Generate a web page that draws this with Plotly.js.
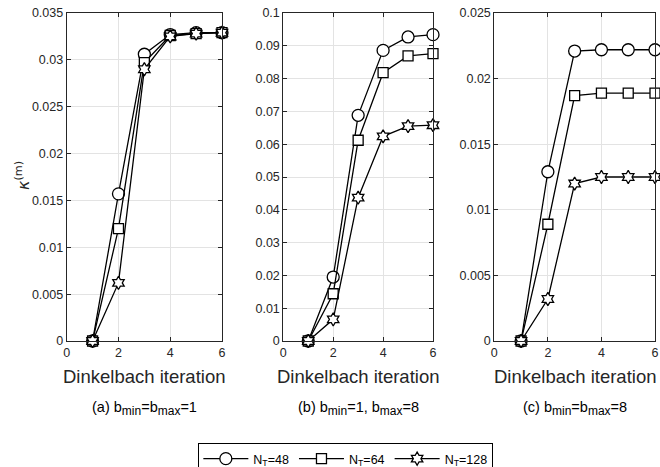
<!DOCTYPE html>
<html>
<head>
<meta charset="utf-8">
<script src="https://cdn.plot.ly/plotly-3.0.1.min.js"></script>
<style>html,body{margin:0;padding:0;background:#fff;}#chart{width:660px;height:467px;}</style>
</head>
<body>
<div id="chart"></div>
<script>
// ---- data ----
const iterations = [1, 2, 3, 4, 5, 6];
const seriesNames = ["N<sub>T</sub>=48", "N<sub>T</sub>=64", "N<sub>T</sub>=128"];

// (a) b_min = b_max = 1
const a_N48  = [0, 0.0157, 0.0306, 0.0327, 0.0329, 0.0329];
const a_N64  = [0, 0.0120, 0.0297, 0.0326, 0.0328, 0.0329];
const a_N128 = [0, 0.0062, 0.0290, 0.0325, 0.0328, 0.0329];

// (b) b_min = 1, b_max = 8
const b_N48  = [0, 0.0195, 0.0688, 0.0886, 0.0927, 0.0934];
const b_N64  = [0, 0.0144, 0.0612, 0.0818, 0.0869, 0.0876];
const b_N128 = [0, 0.0066, 0.0437, 0.0624, 0.0655, 0.0658];

// (c) b_min = b_max = 8
const c_N48  = [0, 0.0129, 0.0221, 0.0222, 0.0222, 0.0222];
const c_N64  = [0, 0.0089, 0.0187, 0.0189, 0.0189, 0.0189];
const c_N128 = [0, 0.0032, 0.0120, 0.0125, 0.0125, 0.0125];

const xTickVals = [0, 2, 4, 6];
const xTickText = ["0", "2", "4", "6"];
const aTickVals = [0, 0.005, 0.01, 0.015, 0.02, 0.025, 0.03, 0.035];
const aTickText = ["0", "0.005", "0.01", "0.015", "0.02", "0.025", "0.03", "0.035"];
const bTickVals = [0, 0.01, 0.02, 0.03, 0.04, 0.05, 0.06, 0.07, 0.08, 0.09, 0.1];
const bTickText = ["0", "0.01", "0.02", "0.03", "0.04", "0.05", "0.06", "0.07", "0.08", "0.09", "0.1"];
const cTickVals = [0, 0.005, 0.01, 0.015, 0.02, 0.025];
const cTickText = ["0", "0.005", "0.01", "0.015", "0.02", "0.025"];

const xTitle = "Dinkelbach iteration";
const yTitle = "<i>κ</i><sup>(m)</sup>";
const SUBS = (s) => "<sub><span style='font-size:12px'>" + s + "</span></sub>";
const captions = [
  "(a) b" + SUBS("min") + "=b" + SUBS("max") + "=1",
  "(b) b" + SUBS("min") + "=1, b" + SUBS("max") + "=8",
  "(c) b" + SUBS("min") + "=b" + SUBS("max") + "=8"
];

// ---- styling ----
const FONT = "'Liberation Sans', Arial, Helvetica, sans-serif";
const W = 660, H = 467;
const symbols = ["circle", "square", "hexagram"];
const sizes = [12, 10, 10];

const panels = [
  {data: [a_N48, a_N64, a_N128], xa: "x",  ya: "y",  tv: aTickVals, tt: aTickText, range: [0, 0.035], px: [66.7, 222]},
  {data: [b_N48, b_N64, b_N128], xa: "x2", ya: "y2", tv: bTickVals, tt: bTickText, range: [0, 0.1],   px: [283.3, 433]},
  {data: [c_N48, c_N64, c_N128], xa: "x3", ya: "y3", tv: cTickVals, tt: cTickText, range: [0, 0.025], px: [494.3, 655]}
];
const yTop = 13, yBot = 341;

const traces = [];
panels.forEach((p, pi) => {
  p.data.forEach((ys, si) => {
    traces.push({
      type: "scatter", mode: "lines+markers",
      x: iterations, y: ys, xaxis: p.xa, yaxis: p.ya,
      name: seriesNames[si], legendgroup: "s" + si, showlegend: pi === 0,
      line: {color: "#000", width: 1.3},
      marker: {symbol: symbols[si], size: sizes[si], color: "#fff", line: {color: "#000", width: 1.3}},
      cliponaxis: false
    });
  });
});

const layout = {
  width: W, height: H,
  margin: {l: 0, r: 0, t: 0, b: 0, autoexpand: false},
  paper_bgcolor: "#fff", plot_bgcolor: "#fff",
  font: {family: FONT, size: 12.5, color: "#262626"},
  showlegend: true,
  legend: {
    orientation: "h", x: 0.524, xanchor: "center", y: 1 - 443 / H, yanchor: "top",
    bordercolor: "#000", borderwidth: 1, bgcolor: "#fff",
    font: {family: FONT, size: 12.5, color: "#000"}, itemwidth: 45,
    tracegroupgap: 0
  },
  annotations: [],
  hovermode: false
};

panels.forEach((p, pi) => {
  const sfx = pi === 0 ? "" : String(pi + 1);
  layout["xaxis" + sfx] = {
    domain: [p.px[0] / W, p.px[1] / W], range: [0, 6], anchor: "y" + sfx,
    tickvals: xTickVals, ticktext: xTickText,
    showgrid: true, gridcolor: "#e3e3e3", gridwidth: 1,
    zeroline: false, showline: true, linecolor: "#262626", linewidth: 1, mirror: "ticks",
    ticks: "inside", ticklen: 4, tickcolor: "#262626",
    tickfont: {family: FONT, size: 12.5, color: "#262626"}
  };
  layout["yaxis" + sfx] = {
    domain: [1 - yBot / H, 1 - yTop / H], range: p.range, anchor: "x" + sfx,
    tickvals: p.tv, ticktext: p.tt,
    showgrid: true, gridcolor: "#e3e3e3", gridwidth: 1,
    zeroline: false, showline: true, linecolor: "#262626", linewidth: 1, mirror: "ticks",
    ticks: "inside", ticklen: 4, tickcolor: "#262626",
    tickfont: {family: FONT, size: 12.5, color: "#262626"}
  };
  const cx = (p.px[0] + p.px[1]) / 2 / W;
  layout.annotations.push({
    xref: "paper", yref: "paper", x: cx, y: 1 - 376 / H, xanchor: "center", yanchor: "middle",
    text: xTitle, showarrow: false, font: {family: FONT, size: 18.5, color: "#262626"}
  });
  layout.annotations.push({
    xref: "paper", yref: "paper", x: cx, y: 1 - 408 / H, xanchor: "center", yanchor: "middle",
    text: captions[pi], showarrow: false, font: {family: FONT, size: 14.5, color: "#000"}
  });
});

layout.annotations.push({
  xref: "paper", yref: "paper", x: 23 / W, y: 1 - 176 / H, xanchor: "center", yanchor: "middle",
  text: yTitle, textangle: -90, showarrow: false, font: {family: "'DejaVu Sans', sans-serif", size: 16, color: "#262626"}
});

Plotly.newPlot("chart", traces, layout, {displayModeBar: false, staticPlot: true});
</script>
</body>
</html>
